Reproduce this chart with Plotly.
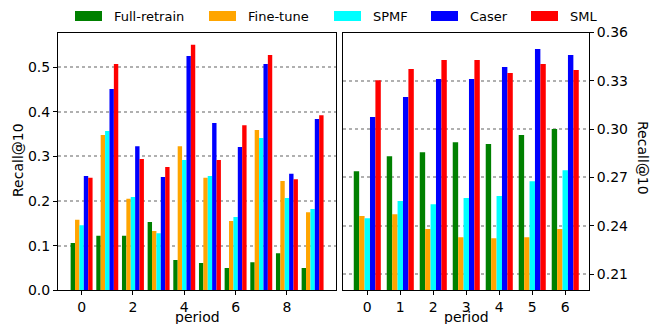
import plotly.graph_objects as go

W, H = 661, 324

series_names = ["Full-retrain", "Fine-tune", "SPMF", "Caser", "SML"]
colors = ["#008000", "#FFA500", "#00FFFF", "#0000FF", "#FF0000"]

left_periods = list(range(10))
left_full_retrain = [0.106, 0.122, 0.122, 0.153, 0.068, 0.061, 0.050, 0.063, 0.083, 0.050]
left_fine_tune = [0.158, 0.348, 0.205, 0.133, 0.323, 0.252, 0.155, 0.359, 0.245, 0.175]
left_spmf = [0.146, 0.357, 0.209, 0.128, 0.292, 0.256, 0.164, 0.341, 0.207, 0.182]
left_caser = [0.256, 0.451, 0.323, 0.254, 0.525, 0.375, 0.321, 0.507, 0.261, 0.384]
left_sml = [0.252, 0.507, 0.294, 0.276, 0.550, 0.292, 0.370, 0.527, 0.249, 0.392]

right_periods = list(range(7))
right_full_retrain = [0.2739, 0.2832, 0.2857, 0.2919, 0.2907, 0.2963, 0.3000]
right_fine_tune = [0.2460, 0.2472, 0.2379, 0.2329, 0.2323, 0.2329, 0.2379]
right_spmf = [0.2447, 0.2553, 0.2534, 0.2572, 0.2585, 0.2677, 0.2745]
right_caser = [0.3075, 0.3199, 0.3311, 0.3311, 0.3385, 0.3497, 0.3460]
right_sml = [0.3304, 0.3373, 0.3429, 0.3429, 0.3348, 0.3404, 0.3367]

left_tickvals = [0, 2, 4, 6, 8]
left_yticks = [0.0, 0.1, 0.2, 0.3, 0.4, 0.5]
right_tickvals = [0, 1, 2, 3, 4, 5, 6]
right_yticks = [0.21, 0.24, 0.27, 0.30, 0.33, 0.36]

left_data = [left_full_retrain, left_fine_tune, left_spmf, left_caser, left_sml]
right_data = [right_full_retrain, right_fine_tune, right_spmf, right_caser, right_sml]

FONT = "DejaVu Sans"
fig = go.Figure()

wl, wr = 0.171, 0.164
for i, (name, col) in enumerate(zip(series_names, colors)):
    fig.add_trace(go.Bar(x=left_periods, y=left_data[i], name=name,
                         marker=dict(color=col, line=dict(width=0)),
                         width=wl, offset=-2.5 * wl + i * wl,
                         xaxis="x", yaxis="y", showlegend=False))
    fig.add_trace(go.Bar(x=right_periods, y=right_data[i], name=name,
                         marker=dict(color=col, line=dict(width=0)),
                         width=wr, offset=-2.5 * wr + i * wr,
                         xaxis="x2", yaxis="y2", showlegend=False))

def px_x(x):
    return x / W

def px_y(y):
    return 1 - y / H

axis_common = dict(showline=True, mirror=True, linecolor="black", linewidth=1,
                   ticks="outside", ticklen=4, tickwidth=1, tickcolor="black",
                   tickfont=dict(family=FONT, size=14, color="black"),
                   zeroline=False, automargin=False)

y_bot, y_top = px_y(290.3), px_y(32.5)

fig.update_layout(
    width=W, height=H,
    margin=dict(l=0, r=0, t=0, b=0, pad=0, autoexpand=False),
    paper_bgcolor="white", plot_bgcolor="white",
    barmode="overlay",
    showlegend=False,
    font=dict(family=FONT, size=14, color="black"),
    xaxis=dict(domain=[px_x(58), px_x(335.7)], range=[-0.92, 9.9],
               tickvals=left_tickvals, showgrid=False, anchor="y", **axis_common),
    yaxis=dict(domain=[y_bot, y_top], range=[0, 0.5776], tickvals=left_yticks,
               tickformat=".1f", showgrid=True, gridcolor="#b0b0b0", griddash="dot",
               gridwidth=1.5, anchor="x", **axis_common),
    xaxis2=dict(domain=[px_x(343.3), px_x(589)], range=[-0.727, 6.72],
                tickvals=right_tickvals, showgrid=False, anchor="y2", **axis_common),
    yaxis2=dict(domain=[y_bot, y_top], range=[0.1999, 0.36], tickvals=right_yticks,
                tickformat=".2f", side="right", showgrid=True, gridcolor="#b0b0b0",
                griddash="dot", gridwidth=1.5, anchor="x2", **axis_common),
)

lab = dict(xref="paper", yref="paper", showarrow=False, xanchor="center",
           yanchor="middle", font=dict(family=FONT, size=14))
annotations = [
    dict(text="period", x=px_x(197), y=px_y(316.5), **lab),
    dict(text="period", x=px_x(466), y=px_y(316.5), **lab),
    dict(text="Recall@10", x=px_x(18), y=px_y(160), textangle=-90, **lab),
    dict(text="Recall@10", x=px_x(643), y=px_y(158), textangle=90, **lab),
]
shapes = []
patch_x = [75, 209, 334, 431, 531]
for name, col, x0 in zip(series_names, colors, patch_x):
    shapes.append(dict(type="rect", xref="paper", yref="paper",
                       x0=px_x(x0), x1=px_x(x0 + 27), y0=px_y(21), y1=px_y(11),
                       fillcolor=col, line=dict(width=0)))
    annotations.append(dict(text=name, x=px_x(x0 + 37), y=px_y(16), xref="paper",
                            yref="paper", xanchor="left", yanchor="middle",
                            showarrow=False, font=dict(family=FONT, size=13)))

fig.update_layout(annotations=annotations, shapes=shapes)
fig.write_html("out.html", config={"displayModeBar": False},
               post_script="document.body.style.margin='0';")
